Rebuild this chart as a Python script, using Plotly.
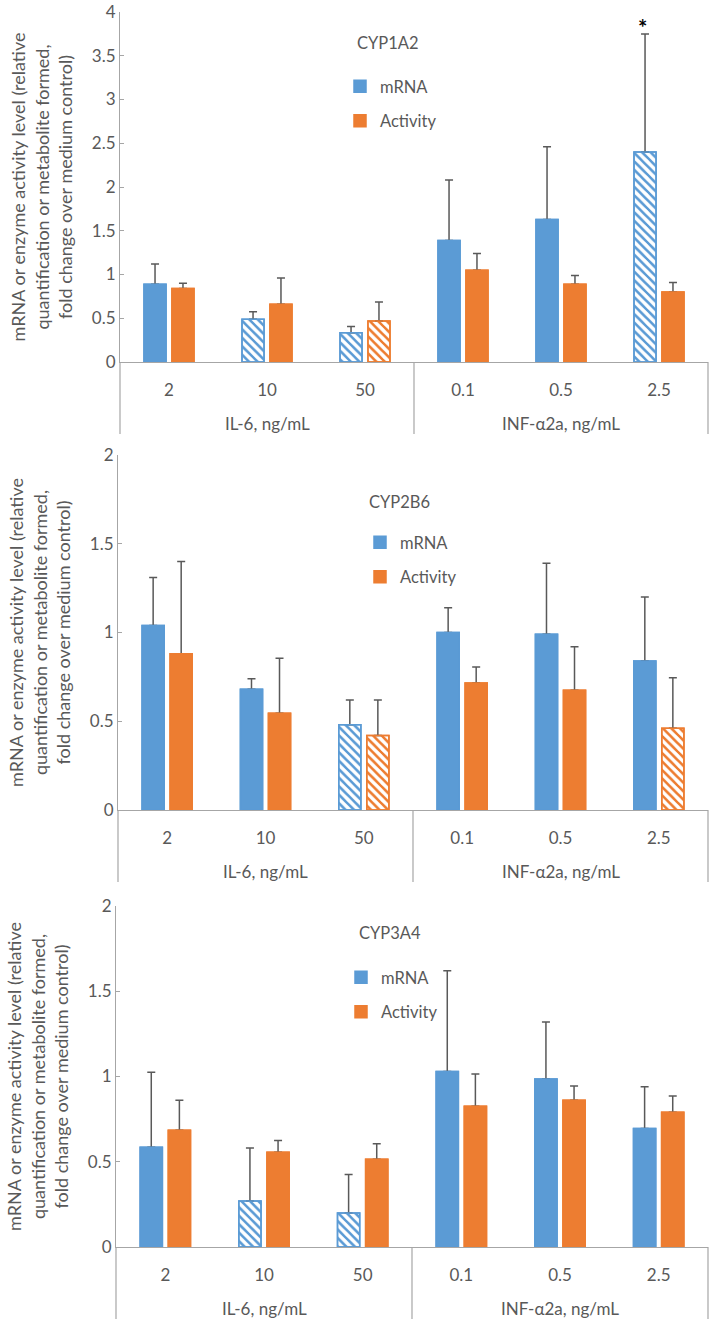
import plotly.graph_objects as go

# ---------------- data ----------------
groups = ["IL-6, ng/mL"] * 3 + ["INF-α2a, ng/mL"] * 3
doses = ["2", "10", "50", "0.1", "0.5", "2.5"]
panel_titles = ["CYP1A2", "CYP2B6", "CYP3A4"]

cyp1a2_mrna = [0.89, 0.49, 0.335, 1.39, 1.63, 2.40]
cyp1a2_mrna_err = [0.23, 0.085, 0.07, 0.69, 0.83, 1.35]
cyp1a2_act = [0.84, 0.66, 0.47, 1.05, 0.89, 0.80]
cyp1a2_act_err = [0.06, 0.30, 0.215, 0.19, 0.10, 0.11]
cyp1a2_mrna_hatched = [False, True, True, False, False, True]
cyp1a2_act_hatched = [False, False, True, False, False, False]
cyp1a2_mrna_signif = [False, False, False, False, False, True]

cyp2b6_mrna = [1.04, 0.68, 0.48, 1.00, 0.99, 0.84]
cyp2b6_mrna_err = [0.27, 0.06, 0.14, 0.14, 0.40, 0.36]
cyp2b6_act = [0.88, 0.545, 0.42, 0.715, 0.675, 0.46]
cyp2b6_act_err = [0.52, 0.31, 0.20, 0.09, 0.245, 0.285]
cyp2b6_mrna_hatched = [False, False, True, False, False, False]
cyp2b6_act_hatched = [False, False, True, False, False, True]
cyp2b6_mrna_signif = [False] * 6

cyp3a4_mrna = [0.585, 0.27, 0.20, 1.03, 0.985, 0.695]
cyp3a4_mrna_err = [0.44, 0.31, 0.225, 0.59, 0.335, 0.245]
cyp3a4_act = [0.685, 0.555, 0.515, 0.825, 0.86, 0.79]
cyp3a4_act_err = [0.175, 0.07, 0.09, 0.19, 0.085, 0.095]
cyp3a4_mrna_hatched = [False, True, True, False, False, False]
cyp3a4_act_hatched = [False, False, False, False, False, False]
cyp3a4_mrna_signif = [False] * 6

y_max = [4, 2, 2]

panels = [
    (cyp1a2_mrna, cyp1a2_mrna_err, cyp1a2_mrna_hatched, cyp1a2_act, cyp1a2_act_err, cyp1a2_act_hatched, cyp1a2_mrna_signif),
    (cyp2b6_mrna, cyp2b6_mrna_err, cyp2b6_mrna_hatched, cyp2b6_act, cyp2b6_act_err, cyp2b6_act_hatched, cyp2b6_mrna_signif),
    (cyp3a4_mrna, cyp3a4_mrna_err, cyp3a4_mrna_hatched, cyp3a4_act, cyp3a4_act_err, cyp3a4_act_hatched, cyp3a4_mrna_signif),
]

# ---------------- style ----------------
W, H = 709, 1319
BLUE = "#5B9BD5"
ORANGE = "#ED7D31"
TEXT = "#595959"
AXIS = "#A6A6A6"
ERR = "#595959"
FONT = "Lato"
TICK_SIZE = 17

# pixel geometry of each panel
panel_px = [(12, 362), (455, 810), (906, 1247)]
x_left_px = [120, 118, 116]
x_right_px = 708
legend_px = [(340, 69), (360, 525), (341, 960)]
title_px = [(355, 43), (367, 502), (357, 933)]
GROUP_LABEL_SHIFT = 61   # px below the category axis line
DIVIDER_DEPTH = 72       # px below the category axis line

fig = go.Figure()


def bar_marker(color, hatched):
    return dict(
        color=[color] * len(hatched),
        line=dict(color=color, width=1.5),
        pattern=dict(
            shape=["\\" if h else "" for h in hatched],
            fgcolor=color,
            bgcolor=["white" if h else color for h in hatched],
            size=6,
            solidity=0.35,
            fillmode="replace",
        ),
    )


# group boundaries (category index) derived from the group list
bounds = [0] + [k for k in range(1, len(groups)) if groups[k] != groups[k - 1]] + [len(groups)]
n_cat = len(doses)

for i, (m, me, mh, a, ae, ah, sig) in enumerate(panels):
    sfx = "" if i == 0 else str(i + 1)
    xa, ya = "x" + sfx, "y" + sfx
    leg = "legend" if i == 0 else "legend" + str(i + 1)
    for name, vals, errs, hatch, col in [
        ("mRNA", m, me, mh, BLUE),
        ("Activity", a, ae, ah, ORANGE),
    ]:
        og = name + sfx
        # bar with its (plus-only) error bar
        fig.add_trace(go.Bar(
            x=doses, y=vals, name=name,
            xaxis=xa, yaxis=ya, legend=leg,
            legendgroup=og, offsetgroup=og,
            marker=bar_marker(col, hatch),
            error_y=dict(type="data", symmetric=False, array=errs,
                         arrayminus=[0] * len(errs), color=ERR,
                         thickness=1.5, width=4),
        ))
        # same bar redrawn on top, hiding the lower error-bar cap
        fig.add_trace(go.Bar(
            x=doses, y=vals, name=name, showlegend=False,
            xaxis=xa, yaxis=ya, legend=leg,
            legendgroup=og, offsetgroup=og,
            marker=bar_marker(col, hatch), hoverinfo="skip",
        ))
    # significance markers
    for k, s in enumerate(sig):
        if s:
            fig.add_annotation(x=k, y=m[k] + me[k], xref=xa, yref=ya,
                               text="<b>*</b>", showarrow=False, yanchor="bottom",
                               xshift=-17, yshift=-9,
                               font=dict(family=FONT, size=22, color="black"))

    top, bot = panel_px[i]
    dom_y = [1 - bot / H, 1 - top / H]
    dom_x = [x_left_px[i] / W, x_right_px / W]
    lay_x = "xaxis" if i == 0 else "xaxis" + sfx
    lay_y = "yaxis" if i == 0 else "yaxis" + sfx
    fig.layout[lay_x] = dict(
        domain=dom_x, anchor=ya, type="category",
        showline=True, linecolor=AXIS, linewidth=1.2,
        ticks="", showgrid=False, ticklabelstandoff=12,
        tickfont=dict(family=FONT, size=TICK_SIZE, color=TEXT),
        automargin=False,
    )
    fig.layout[lay_y] = dict(
        domain=dom_y, anchor=xa, range=[0, y_max[i]], dtick=0.5,
        showline=True, linecolor=AXIS, linewidth=1.2,
        ticks="inside", ticklen=4, tickcolor=AXIS,
        showgrid=False, zeroline=False,
        tickfont=dict(family=FONT, size=TICK_SIZE, color=TEXT),
        title=dict(text="mRNA or enzyme activity level (relative<br>"
                        "quantification or metabolite formed,<br>"
                        "fold change over medium control)",
                   font=dict(family=FONT, size=18, color=TEXT), standoff=14),
        automargin=False,
    )

    # group dividers and group labels of the two-level category axis
    for b in bounds:
        fig.add_shape(type="line", xref=xa + " domain", yref=ya + " domain",
                      x0=b / n_cat, x1=b / n_cat, ysizemode="pixel", yanchor=0,
                      y0=0, y1=-DIVIDER_DEPTH,
                      line=dict(color=AXIS, width=1.2), layer="above")
    for b0, b1 in zip(bounds[:-1], bounds[1:]):
        fig.add_annotation(xref=xa + " domain", yref=ya + " domain",
                           x=(b0 + b1) / 2 / n_cat, y=0, yshift=-GROUP_LABEL_SHIFT,
                           text=groups[b0], showarrow=False,
                           xanchor="center", yanchor="middle",
                           font=dict(family=FONT, size=TICK_SIZE, color=TEXT))

    lx, ly = legend_px[i]
    fig.layout[leg] = dict(
        x=lx / W, y=1 - ly / H, xanchor="left", yanchor="top",
        bgcolor="rgba(0,0,0,0)", tracegroupgap=10,
        font=dict(family=FONT, size=16.5, color=TEXT),
        itemwidth=30,
    )
    tx, ty = title_px[i]
    fig.add_annotation(x=tx / W, y=1 - ty / H, xref="paper", yref="paper",
                       text=panel_titles[i], showarrow=False,
                       xanchor="left", yanchor="middle",
                       font=dict(family=FONT, size=16.5, color=TEXT))

fig.update_layout(
    width=W, height=H,
    margin=dict(l=0, r=0, t=0, b=0),
    paper_bgcolor="white", plot_bgcolor="white",
    barmode="group", bargap=0.43, bargroupgap=0.21,
    font=dict(family=FONT, color=TEXT),
    showlegend=True,
)

fig.write_html("out.html", config={"displayModeBar": False},
               post_script="document.body.style.margin='0px';")
